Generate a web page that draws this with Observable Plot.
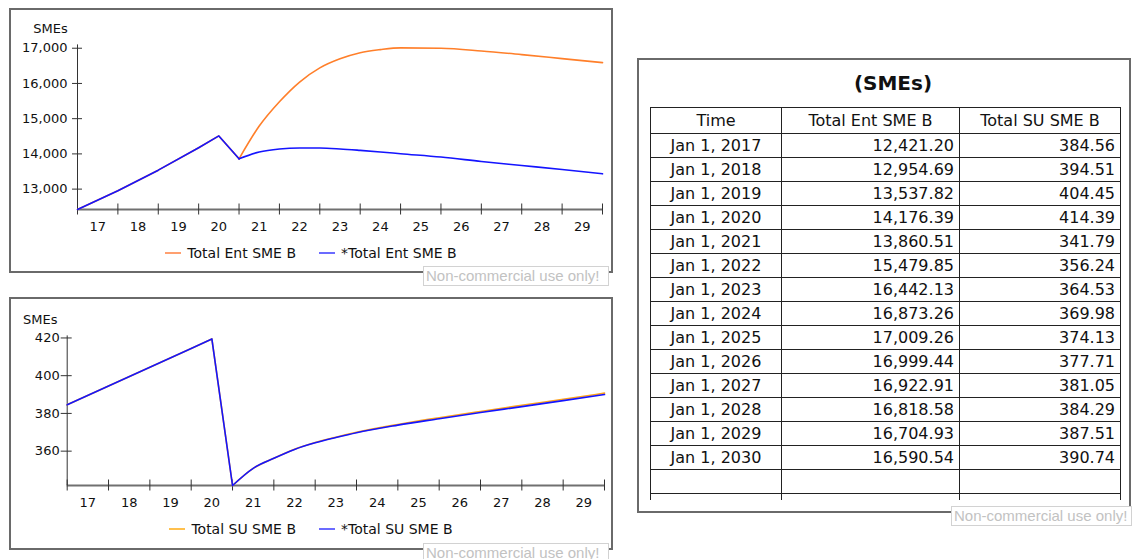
<!DOCTYPE html>
<html><head><meta charset="utf-8">
<script src="https://cdn.jsdelivr.net/npm/d3@7"></script>
<script src="https://cdn.jsdelivr.net/npm/@observablehq/plot@0.6"></script>
<style>
html,body{margin:0;padding:0;background:#fff;}
body{width:1132px;height:559px;position:relative;overflow:hidden;font-family:"DejaVu Sans",Verdana,sans-serif;color:#111;}
.frame{position:absolute;box-sizing:border-box;border:2px solid #6a6a6a;}
.wm{position:absolute;box-sizing:border-box;border:1px solid #d2d2d2;background:#fff;color:#c2c2c2;font:15px "Liberation Sans",Arial,sans-serif;line-height:18px;padding:0 2px;white-space:nowrap;overflow:hidden;}
.legend{position:absolute;left:9px;width:604px;height:18px;display:flex;justify-content:center;align-items:center;gap:23px;font-size:14px;color:#111;}
.item{display:flex;align-items:center;white-space:nowrap;}
.sw{width:16px;height:2px;margin-right:6px;}
.chart{position:absolute;left:0;}
.tbox{position:absolute;left:650px;top:107px;width:472px;height:393px;overflow:hidden;}
table{border-collapse:collapse;font-size:16px;table-layout:fixed;}
td,th{border:1px solid #222;height:23px;padding:0 5px;line-height:23px;font-weight:normal;white-space:nowrap;}
th{text-align:center;height:24.5px;}
td.c{text-align:center;}
td.n{text-align:right;}
.title{position:absolute;left:793px;width:200px;top:71px;text-align:center;font-weight:bold;font-size:20px;}
</style>
</head><body>
<div class="frame" style="left:9px;top:8px;width:604px;height:265px;"></div>
<div class="frame" style="left:9px;top:297px;width:604px;height:253px;"></div>
<div class="frame" style="left:637px;top:58px;width:494px;height:455px;"></div>
<div id="c1" class="chart" style="top:0px"></div>
<div id="c2" class="chart" style="top:290px"></div>
<div id="l1" class="legend" style="top:244px"></div>
<div id="l2" class="legend" style="top:520px"></div>
<div class="title">(SMEs)</div>
<div class="tbox"><table id="tbl"></table></div>
<div class="wm" style="left:423px;top:266px;width:186px;height:20px;">Non-commercial use only!</div>
<div class="wm" style="left:423px;top:543px;width:186px;height:20px;">Non-commercial use only!</div>
<div class="wm" style="left:951px;top:506px;width:181px;height:20px;">Non-commercial use only!</div>
<script>
// ---- data ----
const yearLabels = ["17","18","19","20","21","22","23","24","25","26","27","28","29"];

const entTimes = [2017,2018,2019,2020,2020.5,2021,2021.5,2022,2022.5,2023,2023.5,2024,2024.5,2025,2026,2027,2028,2029,2030];
const entBase  = [12421.20,12954.69,13537.82,14176.39,14510,13860.51,14790,15479.85,16040,16442.13,16700,16873.26,16960,17009.26,16999.44,16922.91,16818.58,16704.93,16590.54];
const entComp  = [12421.20,12954.69,13537.82,14176.39,14510,13860.51,14055,14140,14168,14166,14140,14100,14055,14005,13910,13786,13671,13557,13434];

const suTimes = [2017,2018,2019,2020,2020.5,2021,2021.5,2022,2022.5,2023,2023.5,2024,2025,2026,2027,2028,2029,2030];
const suBase  = [384.56,394.51,404.45,414.39,419.5,341.79,350.9,356.24,361.0,364.53,367.4,369.98,374.13,377.71,381.05,384.29,387.51,390.74];
const suComp  = [384.56,394.51,404.45,414.39,419.5,341.79,350.9,356.2,360.9,364.4,367.2,369.8,373.8,377.2,380.5,383.6,386.8,390.0];

const entYTicks = [13000,14000,15000,16000,17000];
const suYTicks = [360,380,400,420];
const unitLabel = "SMEs";

const entNames = ["Total Ent SME B","*Total Ent SME B"];
const suNames = ["Total SU SME B","*Total SU SME B"];
const tableHeaders = ["Time","Total Ent SME B","Total SU SME B"];

// ---- charts ----
const boundaries = yearLabels.map(l => 2000 + +l).concat([2000 + +yearLabels[yearLabels.length-1] + 1]);
const labelPos = yearLabels.map(l => ({x: 2000 + +l + 0.5, label: l}));

function makeChart(el, cfg) {
  const series = cfg.series.map((s, k) => s.values.map((v, i) => ({t: cfg.times[i], v, k})));
  const all = series.flat();
  const [y0, y1] = d3.extent(all, d => d.v);
  const [x0, x1] = d3.extent(cfg.times);
  const split = 2021;
  const marks = [
    Plot.ruleY([y0], {stroke: "#707070", strokeWidth: 2}),
    Plot.ruleX(boundaries, {y1: y0, y2: y0, insetTop: -5.5, insetBottom: -5.5, stroke: "#333", strokeWidth: 1}),
    Plot.ruleX([x0], {stroke: "#333", strokeWidth: 1, insetTop: -3}),
    Plot.ruleY(cfg.yTicks, {x1: x0, x2: x0, insetLeft: -cfg.tick, insetRight: -5, stroke: "#333", strokeWidth: 1}),
    Plot.text(cfg.yTicks, {x: x0, y: d => d, text: d => d3.format(",")(d), textAnchor: "end", dx: -cfg.gap, fill: "#111", fontSize: 13}),
    Plot.text(labelPos, {x: "x", y: y0, text: "label", dy: 17.7, fill: "#111", fontSize: 13}),
    Plot.text([unitLabel], {x: x0, y: y1, text: d => d, dx: -27, dy: -19, fill: "#111", fontSize: 13})
  ];
  series.forEach((s, k) => {
    const col = cfg.series[k].color;
    marks.push(Plot.line(s.filter(d => d.t <= split), {x: "t", y: "v", stroke: col, strokeWidth: 1.6, curve: "linear"}));
    marks.push(Plot.line(s.filter(d => d.t >= split), {x: "t", y: "v", stroke: col, strokeWidth: 1.6, curve: "monotone-x"}));
  });
  const svg = Plot.plot({
    width: 620, height: cfg.height,
    marginLeft: cfg.ml, marginRight: cfg.mr, marginTop: cfg.mt, marginBottom: cfg.mb,
    x: {domain: [x0, x1], axis: null},
    y: {domain: [y0, y1], axis: null},
    style: {fontFamily: "DejaVu Sans", fontSize: "13px", background: "transparent", overflow: "visible", color: "#111"},
    marks
  });
  document.getElementById(el).appendChild(svg);
}

function makeLegend(el, names, colors) {
  const L = document.getElementById(el);
  names.forEach((n, i) => {
    const it = document.createElement("div"); it.className = "item";
    const sw = document.createElement("div"); sw.className = "sw"; sw.style.background = colors[i];
    const tx = document.createElement("span"); tx.textContent = n;
    it.appendChild(sw); it.appendChild(tx); L.appendChild(it);
  });
}

makeChart("c1", {
  times: entTimes,
  series: [{values: entBase, color: "#ff7f2a"}, {values: entComp, color: "#1414ff"}],
  yTicks: entYTicks, height: 240, ml: 77, mr: 18, mt: 47.4, mb: 31, gap: 10, tick: 5
});
makeChart("c2", {
  times: suTimes,
  series: [{values: suBase, color: "#ffa21a"}, {values: suComp, color: "#1414ff"}],
  yTicks: suYTicks, height: 225, ml: 66.7, mr: 16, mt: 48.4, mb: 30, gap: 7.5, tick: 6
});
makeLegend("l1", entNames, ["#ffa070", "#6b6bff"]);
makeLegend("l2", suNames, ["#ffc04d", "#6b6bff"]);

// ---- table ----
const tbl = document.getElementById("tbl");
const colW = [131, 178, 161];
const cg = document.createElement("colgroup");
colW.forEach(w => { const c = document.createElement("col"); c.style.width = w + "px"; cg.appendChild(c); });
tbl.appendChild(cg);
const hr = document.createElement("tr");
tableHeaders.forEach(h => { const th = document.createElement("th"); th.textContent = h; hr.appendChild(th); });
tbl.appendChild(hr);
const fmt2 = d3.format(",.2f");
entTimes.forEach((t, i) => {
  if (!Number.isInteger(t)) return;
  const j = suTimes.indexOf(t);
  const tr = document.createElement("tr");
  [["c", `Jan 1, ${t}`], ["n", fmt2(entBase[i])], ["n", fmt2(suBase[j])]].forEach(([c, v]) => {
    const td = document.createElement("td"); td.className = c; td.textContent = v; tr.appendChild(td);
  });
  tbl.appendChild(tr);
});
for (let r = 0; r < 2; r++) {
  const tr = document.createElement("tr");
  for (let c = 0; c < 3; c++) { const td = document.createElement("td"); td.innerHTML = "&nbsp;"; tr.appendChild(td); }
  tbl.appendChild(tr);
}
</script>
</body></html>
